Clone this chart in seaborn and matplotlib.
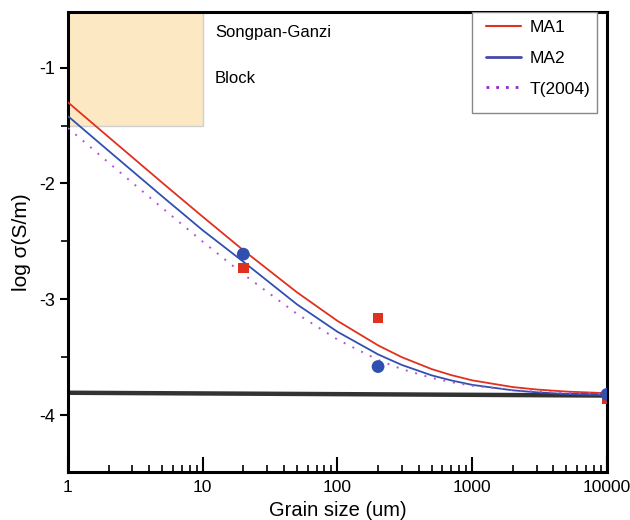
import matplotlib
matplotlib.use("Agg")
import matplotlib.pyplot as plt
import seaborn as sns
import pandas as pd
from matplotlib.lines import Line2D
from matplotlib.patches import Rectangle
from matplotlib.ticker import FixedLocator, NullFormatter

# ---- data ----
grain = [1, 2, 5, 10, 20, 50, 100, 200, 300, 500, 700, 1000, 2000, 3000, 5000, 10000]
ma1 = [-1.300, -1.599, -1.993, -2.287, -2.576, -2.939, -3.186, -3.397, -3.499,
       -3.602, -3.654, -3.699, -3.757, -3.778, -3.796, -3.810]
ma2 = [-1.419, -1.718, -2.111, -2.404, -2.675, -3.043, -3.280, -3.475, -3.566,
       -3.656, -3.700, -3.738, -3.785, -3.802, -3.817, -3.827]
t2004 = [-1.521, -1.820, -2.211, -2.502, -2.783, -3.125, -3.347, -3.523, -3.602,
         -3.678, -3.715, -3.745, -3.783, -3.796, -3.807, -3.815]

pt_grain = [20, 200, 10000]
pt_ma1 = [-2.73, -3.16, -3.86]
pt_ma2 = [-2.61, -3.58, -3.82]

base_x = [1, 10000]
base_y = [-3.806, -3.830]

box_x = [1, 10]
box_y = [-1.5, -0.52]

x_ticks = [1, 10, 100, 1000, 10000]
x_labels = ["1", "10", "100", "1000", "10000"]
y_ticks = [-4, -3, -2, -1]
y_labels = ["-4", "-3", "-2", "-1"]
legend_labels = ["MA1", "MA2", "T(2004)"]
block_text = ["Songpan-Ganzi", "Block"]

sns.set_theme(style="white", rc={"text.color": "black", "axes.labelcolor": "black",
                                 "xtick.color": "black", "ytick.color": "black"})
plt.rcParams["font.family"] = ["Liberation Sans", "DejaVu Sans"]

fig = plt.figure(figsize=(6.3, 5.2), dpi=100)
ax = fig.add_axes([68 / 630, 1 - 472 / 520, 539 / 630, 460 / 520])

red = "#E0301E"
blue = "#3050B0"
purple = "#B850D8"

# shaded block
ax.add_patch(Rectangle((box_x[0], box_y[0]), box_x[1] - box_x[0], box_y[1] - box_y[0],
                       facecolor="#FDE8C4", edgecolor="#CFCFCF", lw=1.0, zorder=0.5))
ax.text(12.3, -0.70, block_text[0], fontsize=12, va="center", ha="left", color="black")
ax.text(12.3, -1.09, block_text[1], fontsize=12, va="center", ha="left", color="black")

df = pd.DataFrame({"grain": grain, "MA1": ma1, "MA2": ma2, "T": t2004})
sns.lineplot(data=df, x="grain", y="MA1", ax=ax, color=red, lw=1.3, zorder=3)
sns.lineplot(data=df, x="grain", y="MA2", ax=ax, color=blue, lw=1.3, zorder=3)
sns.lineplot(data=df, x="grain", y="T", ax=ax, color=purple, lw=1.4, zorder=3,
             linestyle=(0, (1, 4)))

sns.lineplot(x=base_x, y=base_y, ax=ax, color="#333333", lw=3.2, zorder=2)

sns.scatterplot(x=pt_grain, y=pt_ma1, ax=ax, marker="s", color=red, s=60,
                edgecolor="none", zorder=4)
sns.scatterplot(x=pt_grain, y=pt_ma2, ax=ax, marker="o", color=blue, s=85,
                edgecolor="none", zorder=5)

ax.set_xscale("log")
ax.set_xlim(1, 10000)
ax.set_ylim(-4.49, -0.52)

ax.set_xticks(x_ticks)
ax.set_xticklabels(x_labels)
ax.set_yticks(y_ticks)
ax.set_yticklabels(y_labels)
ax.yaxis.set_minor_locator(FixedLocator([-4.5, -3.5, -2.5, -1.5]))
ax.xaxis.set_minor_formatter(NullFormatter())

ax.tick_params(axis="x", which="major", direction="in", length=11, width=1.5,
               labelsize=12.5, pad=6, bottom=True, top=False)
ax.tick_params(axis="x", which="minor", direction="in", length=5, width=1.2,
               bottom=True, top=False)
ax.tick_params(axis="y", which="major", direction="out", length=6, width=1.5,
               labelsize=13, pad=3, left=True, right=False)
ax.tick_params(axis="y", which="minor", direction="out", length=5, width=1.2,
               left=True, right=False)

for sp in ax.spines.values():
    sp.set_visible(True)
    sp.set_color("black")
    sp.set_linewidth(2.2)

ax.set_xlabel("Grain size (um)", fontsize=14.5, labelpad=4)
ax.set_ylabel("log σ(S/m)", fontsize=15, labelpad=6)

# legend box drawn in axes coordinates
ax.add_patch(Rectangle(((472 - 68) / 539, (472 - 113) / 460), (597 - 472) / 539,
                       (113 - 12) / 460, transform=ax.transAxes, facecolor="white",
                       edgecolor="#888888", lw=1.0, zorder=6))
handles = [
    Line2D([], [], color=red, lw=1.5),
    Line2D([], [], color="#4848A8", lw=2.0),
    Line2D([], [], color="#8A2BC8", lw=2.0, linestyle=(0, (1, 2.5))),
]
leg = ax.legend(handles, legend_labels, loc="upper left",
                bbox_to_anchor=((478 - 68) / 539, 1.0), borderaxespad=0,
                frameon=False, fontsize=12.5, handlelength=2.0,
                handletextpad=0.55, labelspacing=0.9, borderpad=0.45)
leg.set_zorder(7)

fig.savefig("out.png", dpi=100)
